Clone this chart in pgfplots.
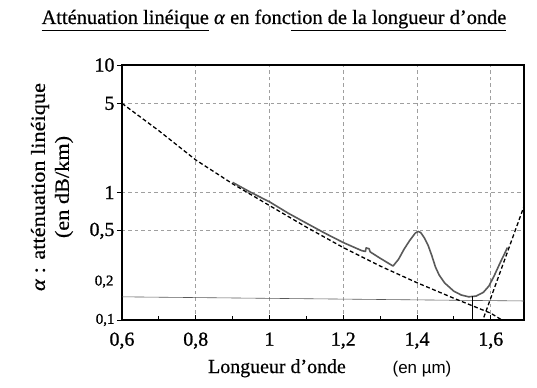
\documentclass[border=0pt]{standalone}
\usepackage{fontspec}
\setmainfont{Liberation Serif}[FakeBold=0.5]
\newfontfamily\labfont{Liberation Serif}[FakeStretch=1.12, FakeBold=0.5]
\newfontfamily\tickfont{Liberation Serif}[FakeBold=1.0]
\newfontfamily\sansf{Liberation Sans}
\usepackage{pgfplots}
\pgfplotsset{compat=1.18}
\begin{document}
\begin{tikzpicture}
\begin{axis}[name=ax, at={(0,0)}, anchor=south west,
  scale only axis, width=402bp, height=255bp,
  xmin=0.6, xmax=1.69, ymode=log, ymin=0.1, ymax=10,
  xtick={0.6,0.8,1,1.2,1.4,1.6},
  xticklabels={{0,6},{0,8},1,{1,2},{1,4},{1,6}},
  minor xtick={0.7,0.9,1.1,1.3,1.5},
  ytick={0.1,0.5,1,5,10},
  yticklabels={{\fontsize{15}{15}\selectfont 0{,}1},{0,5},1,5,10},
  extra y ticks={0.2},
  extra y tick labels={\fontsize{15}{15}\selectfont 0{,}2},
  extra y tick style={grid=none, major tick length=0pt, yticklabel style={xshift=-6bp}},
  yminorticks=false,
  xtick pos=bottom, ytick pos=left,
  xtick align=inside, ytick align=outside,
  major tick length=5bp, minor tick length=4bp,
  tick style={black, line width=1pt},
  grid=major,
  major grid style={gray!75, line width=0.8pt, dash pattern=on 3.5pt off 3pt},
  axis line style={black, line width=1.4pt},
  x tick label style={font=\tickfont\fontsize{20}{20}\selectfont, yshift=-9bp},
  y tick label style={font=\tickfont\fontsize{20}{20}\selectfont, xshift=1bp},
  clip=true,
]
% thin horizontal line
\addplot[gray!70!black, line width=0.6pt] coordinates {(0.6,0.152) (1.69,0.141)};
% Rayleigh dashed
\addplot[black, line width=1.3pt, dash pattern=on 4pt off 2.5pt] coordinates {
(0.6,5) (0.7,3.05) (0.8,1.8) (0.9,1.17) (1.0,0.79) (1.1,0.535) (1.2,0.37)
(1.3,0.265) (1.4,0.196) (1.5,0.148) (1.6,0.113) (1.63,0.1) (1.65,0.093)};
% IR dashed
\addplot[black, line width=1.3pt, dash pattern=on 4pt off 2.5pt] coordinates {
(1.575,0.094) (1.69,0.78)};
% measured attenuation
\addplot[black!65, line width=1.6pt, line join=round] coordinates {
(0.90,1.2) (0.95,1.0) (1.0,0.845) (1.05,0.69) (1.1,0.575) (1.15,0.48)
(1.2,0.405) (1.25,0.35) (1.26,0.345) (1.262,0.368) (1.27,0.362) (1.273,0.342)
(1.3,0.305) (1.335,0.265) (1.35,0.3) (1.365,0.36) (1.38,0.42) (1.395,0.48)
(1.403,0.495) (1.41,0.485) (1.42,0.44) (1.43,0.385) (1.44,0.32) (1.45,0.26)
(1.46,0.225) (1.475,0.195) (1.5,0.168) (1.52,0.157) (1.54,0.152) (1.56,0.154)
(1.58,0.165) (1.595,0.185) (1.61,0.225) (1.625,0.28) (1.637,0.33) (1.645,0.37)};
% marker of minimum
\addplot[black, line width=0.8pt] coordinates {(1.55,0.153) (1.55,0.1)};
\end{axis}
\node[rotate=90, align=center, font=\labfont\fontsize{20}{24}\selectfont]
  at ([shift={(-70bp,133bp)}]ax.south west)
  {\textit{α} : atténuation linéique\\(en dB/km)};
\node[font=\fontsize{20}{20}\selectfont, anchor=base]
  at ([shift={(155bp,-53bp)}]ax.south west) {Longueur d’onde};
\node[font=\sansf\fontsize{17}{17}\selectfont, anchor=base]
  at ([shift={(300bp,-53bp)}]ax.south west) {(en µm)};
\node[font=\fontsize{20.5}{20.5}\selectfont, anchor=base]
  at ([shift={(152bp,41bp)}]ax.north west)
  {\underline{Atténuation linéique} \textit{α} en fonc\underline{tion de la longueur d’onde}};
\pgfresetboundingbox
\path[use as bounding box] ([shift={(-122bp,-68bp)}]ax.south west) rectangle ([shift={(13bp,65bp)}]ax.north east);
\end{tikzpicture}
\end{document}
